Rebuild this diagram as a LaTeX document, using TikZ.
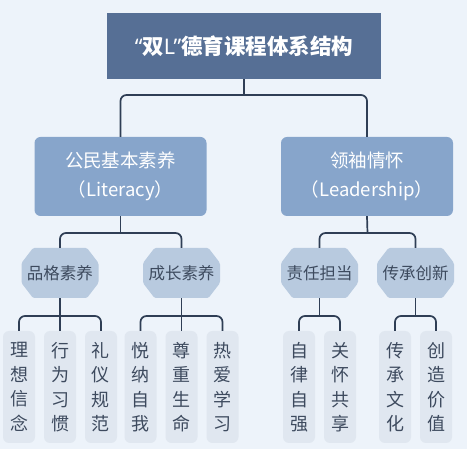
\documentclass[tikz,border=0pt]{standalone}
\usepackage{fontspec}
\setmainfont{Noto Sans CJK SC}
\newfontfamily\latinq{Noto Sans}
\definecolor{bgc}{HTML}{EDF3FA}
\definecolor{titlec}{HTML}{566F95}
\definecolor{lvtwoc}{HTML}{87A5CB}
\definecolor{hexc}{HTML}{B8CADF}
\definecolor{leafc}{HTML}{E0E7F0}
\definecolor{linec}{HTML}{2F3E55}
\definecolor{txtc}{HTML}{3D4A5E}
\newcommand\hexnode[4]{%
  \fill[hexc,rounded corners=1.5pt,shift={(#2,#3)}] (-38.5,-10) -- (-27,-25) -- (27,-25) -- (38.5,-10) -- (38.5,10) -- (27,25) -- (-27,25) -- (-38.5,10) -- cycle;
  \node[hextext] (#1) at (#2,#3) {#4};}
\begin{document}
\begin{tikzpicture}[x=1pt,y=-1pt,
  titlebox/.style={fill=titlec,text=white,minimum width=274pt,minimum height=66pt,inner sep=0pt,font=\fontsize{21.5}{25}\selectfont\bfseries},
  lvtwo/.style={fill=lvtwoc,text=white,rounded corners=6pt,minimum width=172pt,minimum height=79pt,inner sep=0pt,align=center,font=\fontsize{18.5}{29}\selectfont},
  hextext/.style={text=txtc,minimum width=77pt,minimum height=50pt,inner sep=0pt,font=\fontsize{16.5}{20}\selectfont},
  leaf/.style={fill=leafc,text=txtc,rounded corners=6pt,minimum width=32pt,minimum height=112pt,inner sep=0pt,align=center,font=\fontsize{18}{24.5}\selectfont},
  conn/.style={draw=linec,line width=1.7pt,rounded corners=6pt}]
\fill[bgc] (0,0) rectangle (467,449);
\useasboundingbox (0,0) rectangle (467,449);

\node[titlebox] (title) at (244,46) {{\latinq“}双{\latinq L”}德育课程体系结构};
\node[lvtwo] (l2a) at (120.5,176.5) {公民基本素养\\（Literacy）};
\node[lvtwo] (l2b) at (367,176.5) {领袖情怀\\（Leadership）};

\hexnode{h1}{60}{273}{品格素养}
\hexnode{h2}{181.5}{273}{成长素养}
\hexnode{h3}{319.5}{273}{责任担当}
\hexnode{h4}{415.5}{273}{传承创新}

\node[leaf] (a1) at (19,387) {理\\想\\信\\念};
\node[leaf] (a2) at (60,387) {行\\为\\习\\惯};
\node[leaf] (a3) at (101,387) {礼\\仪\\规\\范};
\node[leaf] (c1) at (140.5,387) {悦\\纳\\自\\我};
\node[leaf] (c2) at (181.5,387) {尊\\重\\生\\命};
\node[leaf] (c3) at (222.5,387) {热\\爱\\学\\习};
\node[leaf] (d1) at (299,387) {自\\律\\自\\强};
\node[leaf] (d2) at (340,387) {关\\怀\\共\\享};
\node[leaf] (e1) at (395,387) {传\\承\\文\\化};
\node[leaf] (e2) at (436,387) {创\\造\\价\\值};

\coordinate (b1) at (244,95);
\draw[conn] (l2a.north) |- (b1) -| (l2b.north);
\draw[conn] (title.south) -- (b1);

\coordinate (b2a) at (120.5,233);
\coordinate (b2b) at (367.5,233);
\draw[conn] (h1.north) |- (b2a) -| (h2.north);
\draw[conn] (l2a.south) -- (b2a);
\draw[conn] (h3.north) |- (b2b) -| (h4.north);
\draw[conn] (l2b.south) -- (b2b);

\coordinate (b3a) at (60,316);
\coordinate (b3b) at (181.5,316);
\coordinate (b3c) at (319.5,316);
\coordinate (b3d) at (415.5,316);
\draw[conn] (a1.north) |- (b3a) -| (a3.north);
\draw[conn] (h1.south) -- (a2.north);
\draw[conn] (c1.north) |- (b3b) -| (c3.north);
\draw[conn] (h2.south) -- (c2.north);
\draw[conn] (d1.north) |- (b3c) -| (d2.north);
\draw[conn] (h3.south) -- (b3c);
\draw[conn] (e1.north) |- (b3d) -| (e2.north);
\draw[conn] (h4.south) -- (b3d);
\end{tikzpicture}
\end{document}
